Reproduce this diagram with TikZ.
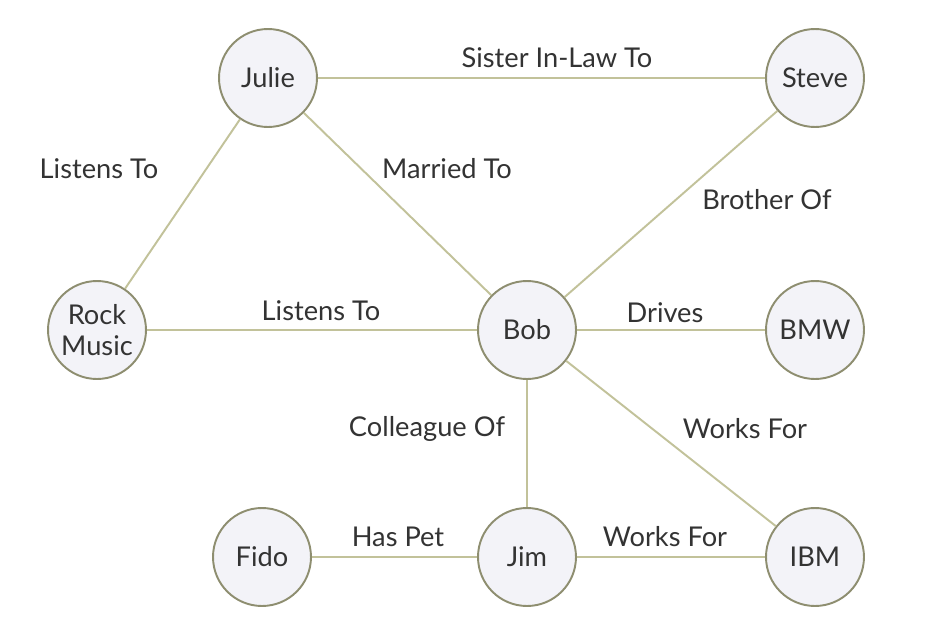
\documentclass[tikz,border=0pt]{standalone}
\usepackage{fontspec}
\setmainfont{Lato}
\definecolor{nodefill}{HTML}{F3F3F8}
\definecolor{nodeborder}{HTML}{8E8E70}
\definecolor{edgecol}{HTML}{C2C29A}
\definecolor{txt}{HTML}{333333}
\begin{document}
\begin{tikzpicture}[x=0.02cm,y=-0.02cm,
  ent/.style={circle,draw=nodeborder,fill=nodefill,line width=1.1pt,minimum size=1.96cm,inner sep=0pt,align=center,text=txt,font=\fontsize{15.5}{18}\selectfont},
  rel/.style={draw=edgecol,line width=1.1pt},
  lbl/.style={text=txt,font=\fontsize{15.5}{17}\selectfont,inner sep=0pt}]
\fill[white] (0,0) rectangle (934,636);
\useasboundingbox (0,0) rectangle (934,636);
\node[ent] (julie) at (268,78) {Julie};
\node[ent] (steve) at (815,78) {Steve};
\node[ent] (rock) at (97,330) {Rock\\Music};
\node[ent] (bob) at (527,330) {Bob};
\node[ent] (bmw) at (815,330) {BMW};
\node[ent] (fido) at (262,557) {Fido};
\node[ent] (jim) at (527,557) {Jim};
\node[ent] (ibm) at (815,557) {IBM};
\draw[rel] (julie) -- (steve);
\draw[rel] (julie) -- (rock);
\draw[rel] (julie) -- (bob);
\draw[rel] (bob) -- (steve);
\draw[rel] (rock) -- (bob);
\draw[rel] (bob) -- (bmw);
\draw[rel] (bob) -- (jim);
\draw[rel] (bob) -- (ibm);
\draw[rel] (fido) -- (jim);
\draw[rel] (jim) -- (ibm);
\node[lbl] (l1) at (557,58) {Sister In-Law To};
\node[lbl] (l2) at (99,169) {Listens To};
\node[lbl] (l3) at (447,169) {Married To};
\node[lbl] (l4) at (767,200) {Brother Of};
\node[lbl] (l5) at (321,311) {Listens To};
\node[lbl] (l6) at (665,313) {Drives};
\node[lbl] (l7) at (427,429) {Colleague Of};
\node[lbl] (l8) at (745,429) {Works For};
\node[lbl] (l9) at (398,537) {Has Pet};
\node[lbl] (l10) at (665,537) {Works For};
\end{tikzpicture}
\end{document}
